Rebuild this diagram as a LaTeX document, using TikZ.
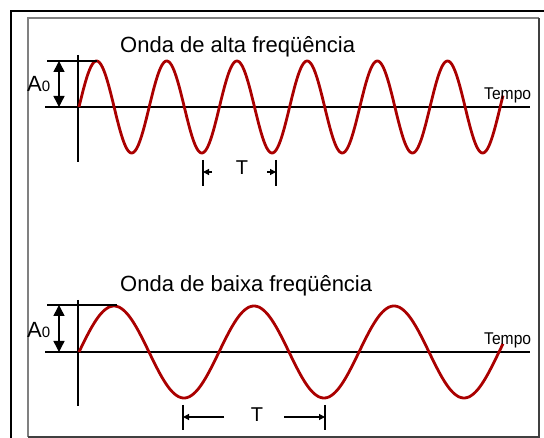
\documentclass[tikz,border=0pt]{standalone}
\usepackage{fontspec}
\setmainfont{Liberation Sans}
\usetikzlibrary{arrows.meta}
\definecolor{vermelhoOnda}{RGB}{170,0,0}
\definecolor{cinzaMoldura}{RGB}{128,128,128}
\tikzset{
  eixo/.style={line width=1.2pt},
  senoide/.style={draw=vermelhoOnda, line width=2.8pt, line join=round},
  titulo/.style={font=\fontsize{22}{26}\selectfont, inner sep=0pt, anchor=base west},
  rotulo/.style={font=\fontsize{17}{20}\selectfont, inner sep=0pt, anchor=base west},
  amplitude/.style={font=\fontsize{22}{26}\selectfont, inner sep=0pt, anchor=base west},
  periodo/.style={font=\fontsize{20}{24}\selectfont, inner sep=0pt, anchor=base},
  cota/.style={line width=1.5pt, {Triangle[length=11pt,width=11pt]}-{Triangle[length=11pt,width=11pt]}},
  seta/.style={line width=1.2pt, -{Triangle[length=6pt,width=6pt]}}
}
\begin{document}
\begin{tikzpicture}[x=1pt, y=-1pt]
  \useasboundingbox (0,0) rectangle (544,438);
  \draw[line width=2.5pt] (11,438) -- (11,11) -- (544,11);
  \draw[cinzaMoldura, line width=2pt] (28,437) -- (28,18) -- (539,18);
  \draw[black!75, line width=2pt] (539,18) -- (539,437) -- (28,437);

  % onda de alta frequencia
  \node[titulo] (tituloAlta) at (120,53) {Onda de alta freqüência};
  \draw[eixo] (45,107) -- (530,107);
  \draw[eixo] (78,55) -- (78,162);
  \draw[senoide] plot[domain=0:424, samples=400] (79+\x, {107-46*sin(\x/70.2*360)});
  \node[rotulo] (tempoAlta) at (484,100) {\scalebox{0.92}[1]{Tempo}};
  \coordinate (topoAlta) at (59,61);
  \coordinate (baseAlta) at (59,107);
  \draw[eixo] (47,61) -- (97,61);
  \draw[cota] (topoAlta) -- (baseAlta);
  \node[amplitude] (ampAlta) at (27,92) {A{\fontsize{15}{17}\selectfont 0}};
  \coordinate (iniAlta) at (203,172);
  \coordinate (fimAlta) at (276,172);
  \draw[eixo] (203,160) -- (203,186);
  \draw[eixo] (276,160) -- (276,186);
  \draw[seta] (212,172) -- (iniAlta);
  \draw[seta] (267,172) -- (fimAlta);
  \node[periodo] (perAlta) at (242,175) {T};

  % onda de baixa frequencia
  \node[titulo] (tituloBaixa) at (120,292) {Onda de baixa freqüência};
  \draw[eixo] (45,352) -- (530,352);
  \draw[eixo] (78,300) -- (78,406);
  \draw[senoide] plot[domain=0:424, samples=300] (79+\x, {352-46*sin(\x/140*360)});
  \node[rotulo] (tempoBaixa) at (484,345) {\scalebox{0.92}[1]{Tempo}};
  \coordinate (topoBaixa) at (59,305);
  \coordinate (baseBaixa) at (59,352);
  \draw[eixo] (47,305) -- (117,305);
  \draw[cota] (topoBaixa) -- (baseBaixa);
  \node[amplitude] (ampBaixa) at (27,338) {A{\fontsize{15}{17}\selectfont 0}};
  \coordinate (iniBaixa) at (183,417);
  \coordinate (fimBaixa) at (325,417);
  \draw[eixo] (183,405) -- (183,430);
  \draw[eixo] (325,405) -- (325,430);
  \draw[seta] (224,417) -- (iniBaixa);
  \draw[seta] (284,417) -- (fimBaixa);
  \node[periodo] (perBaixa) at (257,422) {T};
\end{tikzpicture}
\end{document}
